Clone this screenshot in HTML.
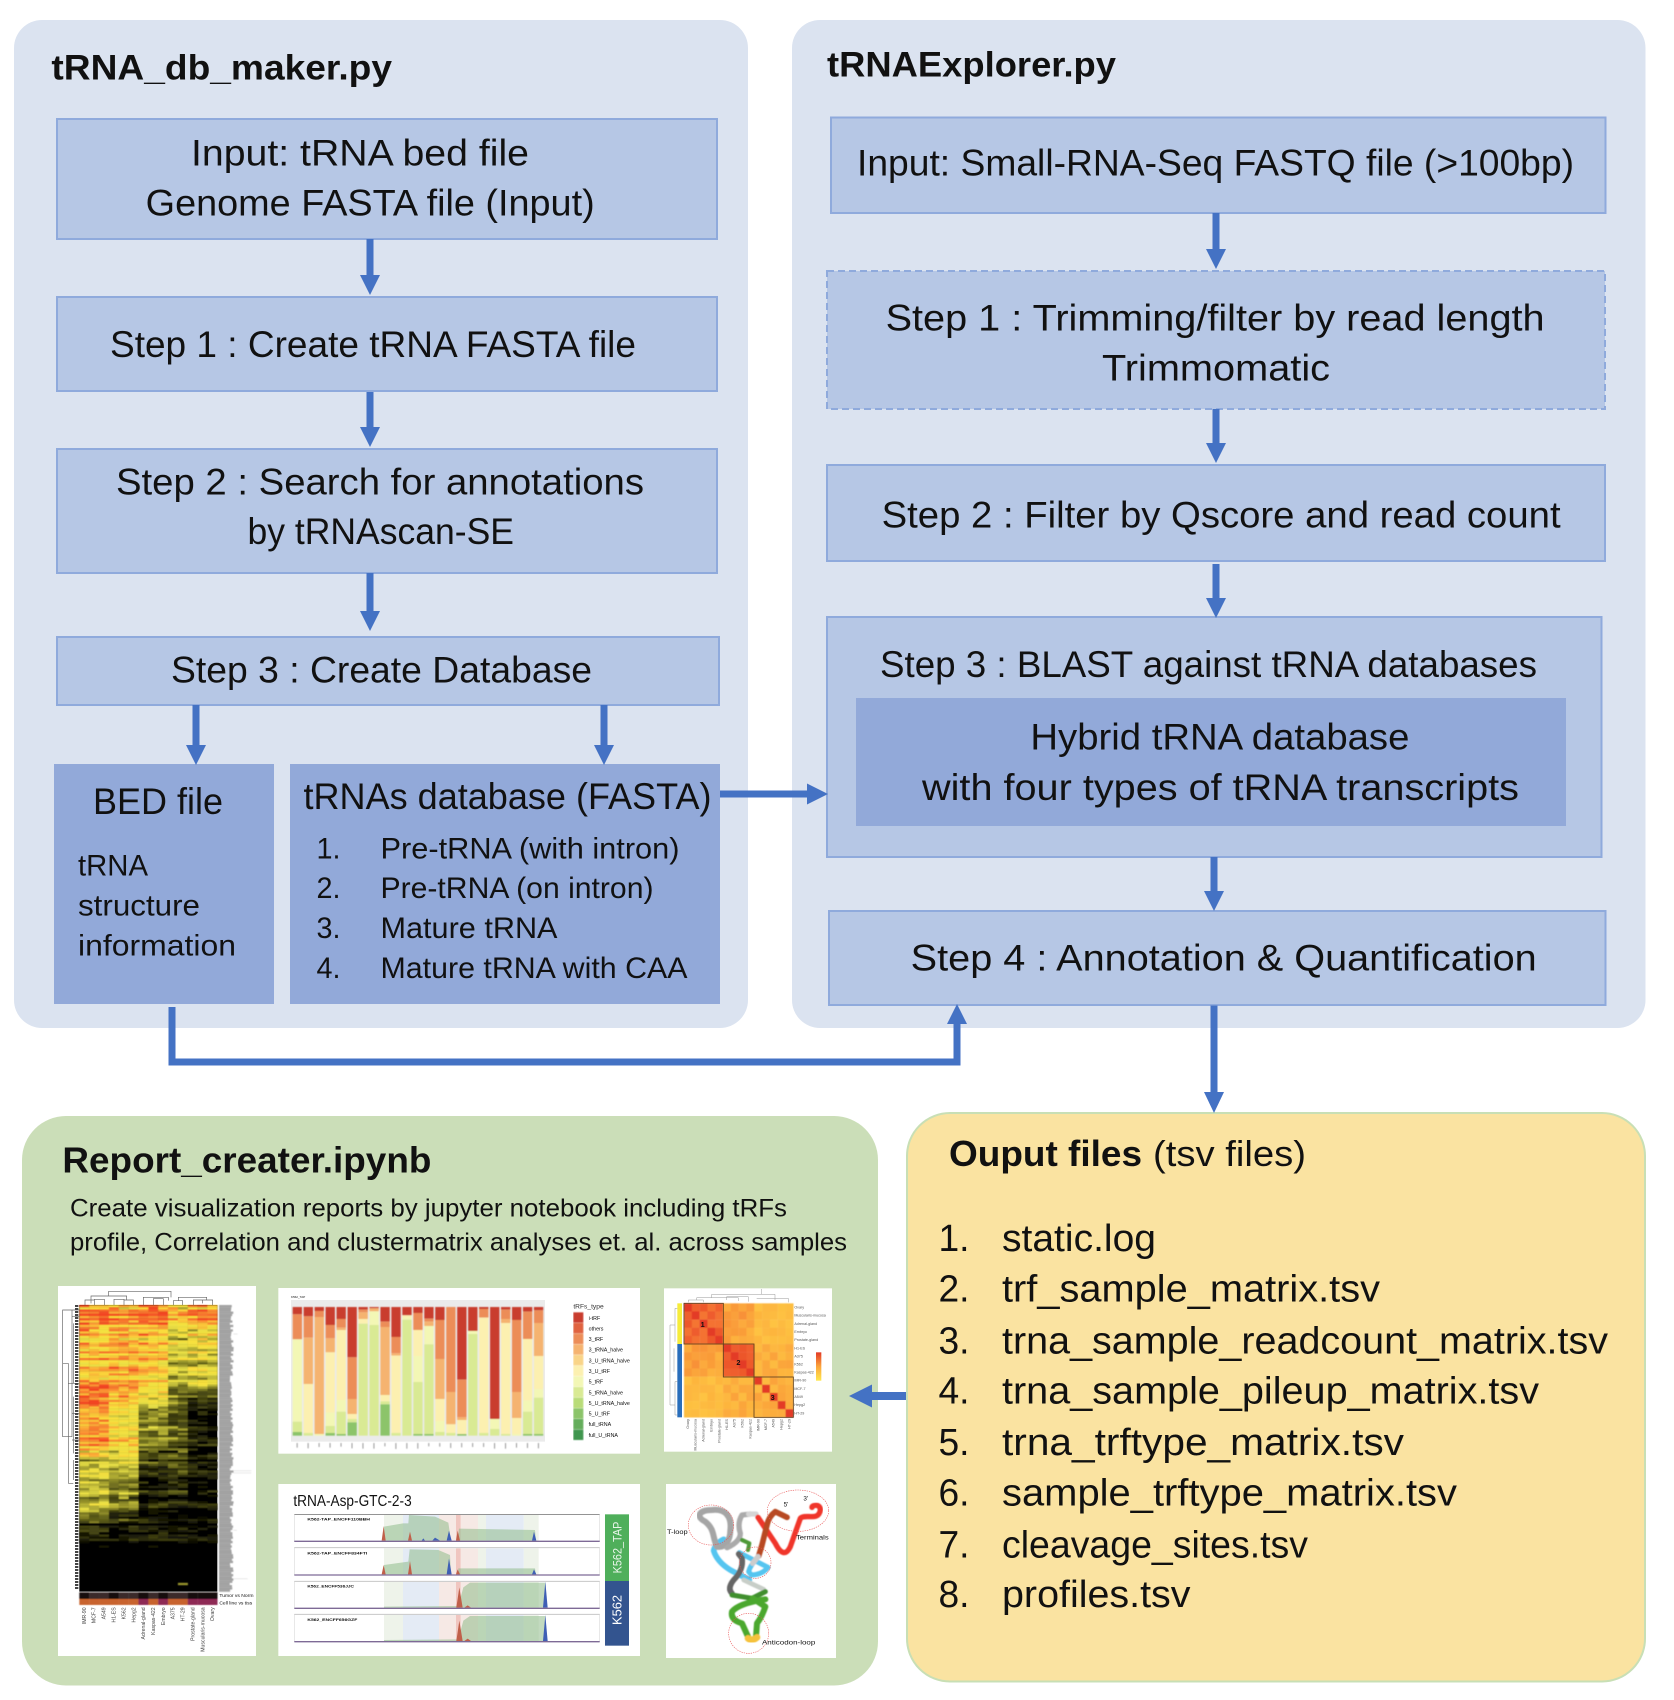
<!DOCTYPE html>
<html><head><meta charset="utf-8"><style>
html,body{margin:0;padding:0;background:#fff}
svg{display:block}
text{font-family:"Liberation Sans",sans-serif;fill:#111}
.a{font-size:37px}.b{font-size:30px}.c{font-size:25px}.d{font-size:38px}
.t{font-weight:bold}
</style></head><body>
<svg xmlns="http://www.w3.org/2000/svg" width="1674" height="1700" viewBox="0 0 1674 1700">
<defs>
<filter id="bl" x="-2%" y="-2%" width="104%" height="104%"><feGaussianBlur stdDeviation="1.5"/></filter>
<linearGradient id="lg" x1="0" y1="0" x2="0" y2="1"><stop offset="0" stop-color="#e33a26"/><stop offset=".5" stop-color="#fba53c"/><stop offset="1" stop-color="#ffe84d"/></linearGradient>
</defs>
<rect width="1674" height="1700" fill="#fff"/>

<!-- panels -->
<rect x="14" y="20" width="734" height="1008" rx="28" fill="#dbe3f0"/>
<rect x="792" y="20" width="853.5" height="1008" rx="28" fill="#dbe3f0"/>
<rect x="22" y="1116" width="856" height="569.5" rx="44" fill="#cbdeb8"/>
<rect x="907" y="1113" width="738" height="568.5" rx="43" fill="#fae3a1" stroke="#c8dfb5" stroke-width="2"/>

<!-- boxes -->
<g fill="#b6c7e5" stroke="#8faadc" stroke-width="2">
<rect x="57" y="119" width="660" height="120"/>
<rect x="57" y="297" width="660" height="94"/>
<rect x="57" y="449" width="660" height="124"/>
<rect x="57" y="637" width="662" height="68"/>
<rect x="831" y="117.5" width="774.5" height="95.5"/>
<rect x="827" y="271" width="778" height="138" stroke-dasharray="7 4"/>
<rect x="827" y="465" width="778" height="96"/>
<rect x="827" y="617" width="774.5" height="240"/>
<rect x="829" y="911" width="776.5" height="94"/>
</g>
<g fill="#92a9d9">
<rect x="54" y="764" width="220" height="240"/>
<rect x="290" y="764" width="430" height="240"/>
<rect x="856" y="698" width="710" height="128"/>
</g>

<!-- arrows -->
<g fill="none" stroke="#4472c4" stroke-width="7">
<path d="M370 239V278M370 392V430M370 573V614M196 705V748M604 705V748"/>
<path d="M1216 213V252M1216 409V446M1216 564V601M1214 857V894M1214 1005.5V1095"/>
<path d="M720 794H808"/>
<path d="M172 1007V1062H957V1022"/>
<path d="M906 1396H870" stroke-width="8"/>
</g>
<g fill="#4472c4">
<path d="M360 275H380L370 295ZM360 427H380L370 447ZM360 611H380L370 631ZM186 745H206L196 765ZM594 745H614L604 765Z"/>
<path d="M1206 249H1226L1216 269ZM1206 443H1226L1216 463ZM1206 598H1226L1216 618ZM1204 891H1224L1214 911ZM1204 1092H1224L1214 1113Z"/>
<path d="M807 783.5V804.5L828 794Z"/>
<path d="M947 1024H967L957 1004Z"/>
<path d="M872 1384.5V1407.5L849 1396Z"/>
</g>

<!-- left text -->
<text x="51.4" y="79.4" class="a t" textLength="340.6" lengthAdjust="spacingAndGlyphs" style="font-size:35px">tRNA_db_maker.py</text>
<g class="a" transform="translate(0,-1.5)">
<text x="191" y="167" textLength="338" lengthAdjust="spacingAndGlyphs">Input: tRNA bed file</text>
<text x="145.7" y="217" textLength="449" lengthAdjust="spacingAndGlyphs">Genome FASTA file (Input)</text>
<text x="110" y="358.6" textLength="526" lengthAdjust="spacingAndGlyphs">Step 1 : Create tRNA FASTA file</text>
<text x="116" y="496" textLength="528" lengthAdjust="spacingAndGlyphs">Step 2 : Search for annotations</text>
<text x="247.5" y="545.5" textLength="266.5" lengthAdjust="spacingAndGlyphs">by tRNAscan-SE</text>
<text x="171" y="684" textLength="421" lengthAdjust="spacingAndGlyphs">Step 3 : Create Database</text>
<text x="93" y="815.5" textLength="130" lengthAdjust="spacingAndGlyphs">BED file</text>
<text x="303.5" y="810.5" textLength="408" lengthAdjust="spacingAndGlyphs">tRNAs database (FASTA)</text>
</g>
<g class="b" transform="translate(0,-1.5)">
<text x="78" y="877" textLength="70" lengthAdjust="spacingAndGlyphs">tRNA</text>
<text x="78" y="917" textLength="122" lengthAdjust="spacingAndGlyphs">structure</text>
<text x="78" y="957" textLength="158" lengthAdjust="spacingAndGlyphs">information</text>
<text x="316.5" y="860" textLength="24" lengthAdjust="spacingAndGlyphs">1.</text>
<text x="316.5" y="899.6" textLength="24" lengthAdjust="spacingAndGlyphs">2.</text>
<text x="316.5" y="939.6" textLength="24" lengthAdjust="spacingAndGlyphs">3.</text>
<text x="316.5" y="979.6" textLength="24" lengthAdjust="spacingAndGlyphs">4.</text>
<text x="380.5" y="860" textLength="299" lengthAdjust="spacingAndGlyphs">Pre-tRNA (with intron)</text>
<text x="380.5" y="899.6" textLength="273" lengthAdjust="spacingAndGlyphs">Pre-tRNA (on intron)</text>
<text x="380.5" y="939.6" textLength="177" lengthAdjust="spacingAndGlyphs">Mature tRNA</text>
<text x="380.5" y="979.6" textLength="307" lengthAdjust="spacingAndGlyphs">Mature tRNA with CAA</text>
</g>

<!-- right text -->
<text x="827" y="76.6" class="t" style="font-size:35px" textLength="289" lengthAdjust="spacingAndGlyphs">tRNAExplorer.py</text>
<g class="a" transform="translate(0,-1.5)">
<text x="857" y="177" textLength="717" lengthAdjust="spacingAndGlyphs">Input: Small-RNA-Seq FASTQ file (&gt;100bp)</text>
<text x="885.6" y="332" textLength="659" lengthAdjust="spacingAndGlyphs">Step 1 : Trimming/filter by read length</text>
<text x="1102" y="382" textLength="228" lengthAdjust="spacingAndGlyphs">Trimmomatic</text>
<text x="881.6" y="529" textLength="679" lengthAdjust="spacingAndGlyphs">Step 2 : Filter by Qscore and read count</text>
<text x="880" y="678.6" textLength="657" lengthAdjust="spacingAndGlyphs">Step 3 : BLAST against tRNA databases</text>
<text x="1030.4" y="751" textLength="379" lengthAdjust="spacingAndGlyphs">Hybrid tRNA database</text>
<text x="922" y="801.5" textLength="597" lengthAdjust="spacingAndGlyphs">with four types of tRNA transcripts</text>
<text x="910.7" y="972" textLength="626" lengthAdjust="spacingAndGlyphs">Step 4 : Annotation &amp; Quantification</text>
</g>

<!-- report text -->
<text x="62.4" y="1172.7" class="t" style="font-size:36px" textLength="369" lengthAdjust="spacingAndGlyphs">Report_creater.ipynb</text>
<g class="c">
<text x="70" y="1216.7" textLength="717" lengthAdjust="spacingAndGlyphs">Create visualization reports by jupyter notebook including tRFs</text>
<text x="70" y="1250.4" textLength="777" lengthAdjust="spacingAndGlyphs">profile, Correlation and clustermatrix analyses et. al. across samples</text>
</g>

<!-- output text -->
<text x="949" y="1166" class="t" style="font-size:36px" textLength="193" lengthAdjust="spacingAndGlyphs">Ouput files</text>
<text x="1153" y="1166" style="font-size:36px" textLength="153" lengthAdjust="spacingAndGlyphs">(tsv files)</text>
<g class="d" transform="translate(0,1)">
<text x="938.5" y="1250" textLength="31" lengthAdjust="spacingAndGlyphs">1.</text>
<text x="938.5" y="1300.5" textLength="31" lengthAdjust="spacingAndGlyphs">2.</text>
<text x="938.5" y="1352.6" textLength="31" lengthAdjust="spacingAndGlyphs">3.</text>
<text x="938.5" y="1402.5" textLength="31" lengthAdjust="spacingAndGlyphs">4.</text>
<text x="938.5" y="1454" textLength="31" lengthAdjust="spacingAndGlyphs">5.</text>
<text x="938.5" y="1504.4" textLength="31" lengthAdjust="spacingAndGlyphs">6.</text>
<text x="938.5" y="1556.5" textLength="31" lengthAdjust="spacingAndGlyphs">7.</text>
<text x="938.5" y="1606" textLength="31" lengthAdjust="spacingAndGlyphs">8.</text>
<text x="1002" y="1250" textLength="154" lengthAdjust="spacingAndGlyphs">static.log</text>
<text x="1002" y="1300.5" textLength="378" lengthAdjust="spacingAndGlyphs">trf_sample_matrix.tsv</text>
<text x="1002" y="1352.6" textLength="606" lengthAdjust="spacingAndGlyphs">trna_sample_readcount_matrix.tsv</text>
<text x="1002" y="1402.5" textLength="537" lengthAdjust="spacingAndGlyphs">trna_sample_pileup_matrix.tsv</text>
<text x="1002" y="1454" textLength="402" lengthAdjust="spacingAndGlyphs">trna_trftype_matrix.tsv</text>
<text x="1002" y="1504.4" textLength="455" lengthAdjust="spacingAndGlyphs">sample_trftype_matrix.tsv</text>
<text x="1002" y="1556.5" textLength="306" lengthAdjust="spacingAndGlyphs">cleavage_sites.tsv</text>
<text x="1002" y="1606" textLength="188.5" lengthAdjust="spacingAndGlyphs">profiles.tsv</text>
</g>

<!-- heatmap image -->
<g transform="translate(50,1280) scale(.33333)">
<rect x="24" y="18" width="594" height="1110" fill="#fff"/>
<rect x="88" y="75" width="414" height="860" fill="#000"/>
<g id="heat" filter="url(#bl)"></g>
<g id="heatlab" fill="#a2a2a2" filter="url(#bl)"></g>
<g fill="none" stroke="#666" stroke-width="2">
<path d="M176 48V34H363V52M123 70V48H230V60M105 75V60H133V75M133 65V58H163V75M192 75V58H222V75M222 66V60H250V75M280 75V52H355V62M310 75V56H340V75M370 75V62H398V75M385 62V52H470V60M430 75V60H488V75M458 60V70"/>
<path d="M88 90H66V95M66 110H88M38 90H66V470H38ZM55 250H38M55 250V610M55 310H88M55 610H70M70 130V310M70 350V520M70 540V600M66 400H88M66 480H88"/>
</g>
<path d="M80 75V930" stroke="#444" stroke-width="10" stroke-dasharray="6 3" fill="none"/>
<g id="ann" filter="url(#bl)"></g>
<text x="508" y="951" style="font-size:15px">Tumor vs Norm</text>
<text x="508" y="973" style="font-size:15px">Cell line vs tiss</text>
<g style="font-size:15.5px" text-anchor="end">
<text transform="translate(108,982) rotate(-90)" style="fill:#444">IMR-90</text>
<text transform="translate(137,982) rotate(-90)" style="fill:#444">MCF-7</text>
<text transform="translate(167,982) rotate(-90)" style="fill:#444">A549</text>
<text transform="translate(197,982) rotate(-90)" style="fill:#444">H1-ES</text>
<text transform="translate(226,982) rotate(-90)" style="fill:#444">K562</text>
<text transform="translate(256,982) rotate(-90)" style="fill:#444">Hepg2</text>
<text transform="translate(285,982) rotate(-90)" style="fill:#444">Adrenal-gland</text>
<text transform="translate(315,982) rotate(-90)" style="fill:#444">Kaspas-422</text>
<text transform="translate(345,982) rotate(-90)" style="fill:#444">Embryo</text>
<text transform="translate(374,982) rotate(-90)" style="fill:#444">A375</text>
<text transform="translate(404,982) rotate(-90)" style="fill:#444">HT-29</text>
<text transform="translate(433,982) rotate(-90)" style="fill:#444">Prostate-gland</text>
<text transform="translate(463,982) rotate(-90)" style="fill:#444">Muscularis-mucosa</text>
<text transform="translate(492,982) rotate(-90)" style="fill:#444">Ovary</text>
</g>
</g>

<!-- stacked bars image -->
<g transform="translate(275,1285) scale(.33333)">
<rect x="10" y="9" width="1085" height="497" fill="#fff"/>
<rect x="48" y="45" width="762" height="425" fill="#ebebeb"/>
<g id="bars" filter="url(#bl)"></g>
<text x="48" y="39" style="font-size:9px">K562_TAP</text>
<g id="legend" filter="url(#bl)"></g>
<text x="895" y="70" style="font-size:20px;fill:#333">tRFs_type</text>
<g style="font-size:16px">
<text x="941" y="105">i-tRF</text>
<text x="941" y="137">others</text>
<text x="941" y="168">3_tRF</text>
<text x="941" y="200">3_tRNA_halve</text>
<text x="941" y="233">3_U_tRNA_halve</text>
<text x="941" y="264">3_U_tRF</text>
<text x="941" y="295">5_tRF</text>
<text x="941" y="328">5_tRNA_halve</text>
<text x="941" y="360">5_U_tRNA_halve</text>
<text x="941" y="391">5_U_tRF</text>
<text x="941" y="423">full_tRNA</text>
<text x="941" y="456">full_U_tRNA</text>
</g>
</g>

<!-- cluster matrix image -->
<g transform="translate(660,1285) scale(.33333)">
<rect x="12" y="10" width="504" height="490" fill="#fff"/>
<g id="mat" filter="url(#bl)"></g>
<rect x="52" y="55" width="14" height="122" fill="#f6ec3c"/>
<rect x="52" y="177" width="14" height="220" fill="#2a6ebb"/>
<g fill="none" stroke="#5d3f1c" stroke-width="2.5">
<rect x="72" y="55" width="118" height="122"/>
<rect x="190" y="177" width="92" height="99"/>
<rect x="282" y="276" width="118" height="121"/>
</g>
<g fill="none" stroke="#999" stroke-width="1.5">
<path d="M110 45V38H235V48M155 38V28H345V45M305 28V12M200 45V35H265V50M290 40H385V52M85 52V45H130V52M45 70V170M45 70H52M30 120V360M30 120H45M30 360H45M45 290V390M45 290H52M45 390H52M42 190V260"/>
</g>
<g style="font-size:22px;font-weight:bold">
<text x="122" y="126">1</text><text x="229" y="240">2</text><text x="332" y="345">3</text>
</g>
<g style="font-size:11px">
<text x="403" y="71" style="fill:#555">Ovary</text>
<text x="403" y="95" style="fill:#555">Muscularis-mucosa</text>
<text x="403" y="120" style="fill:#555">Adrenal-gland</text>
<text x="403" y="144" style="fill:#555">Embryo</text>
<text x="403" y="168" style="fill:#555">Prostate-gland</text>
<text x="403" y="193" style="fill:#555">H1-ES</text>
<text x="403" y="217" style="fill:#555">A375</text>
<text x="403" y="241" style="fill:#555">K562</text>
<text x="403" y="266" style="fill:#555">Kaspas-422</text>
<text x="403" y="290" style="fill:#555">IMR-90</text>
<text x="403" y="315" style="fill:#555">MCF-7</text>
<text x="403" y="339" style="fill:#555">A549</text>
<text x="403" y="363" style="fill:#555">Hepg2</text>
<text x="403" y="388" style="fill:#555">HT-29</text>
</g>
<g style="font-size:11px" text-anchor="end">
<text transform="translate(87,402) rotate(-90)" style="fill:#555">Ovary</text>
<text transform="translate(110,402) rotate(-90)" style="fill:#555">Muscularis-mucosa</text>
<text transform="translate(134,402) rotate(-90)" style="fill:#555">Adrenal-gland</text>
<text transform="translate(157,402) rotate(-90)" style="fill:#555">Embryo</text>
<text transform="translate(181,402) rotate(-90)" style="fill:#555">Prostate-gland</text>
<text transform="translate(204,402) rotate(-90)" style="fill:#555">H1-ES</text>
<text transform="translate(227,402) rotate(-90)" style="fill:#555">A375</text>
<text transform="translate(251,402) rotate(-90)" style="fill:#555">K562</text>
<text transform="translate(274,402) rotate(-90)" style="fill:#555">Kaspas-422</text>
<text transform="translate(298,402) rotate(-90)" style="fill:#555">IMR-90</text>
<text transform="translate(321,402) rotate(-90)" style="fill:#555">MCF-7</text>
<text transform="translate(344,402) rotate(-90)" style="fill:#555">A549</text>
<text transform="translate(368,402) rotate(-90)" style="fill:#555">Hepg2</text>
<text transform="translate(391,402) rotate(-90)" style="fill:#555">HT-29</text>
</g>
<rect x="468" y="202" width="16" height="85" fill="url(#lg)"/>
</g>

<!-- tracks image -->
<g transform="translate(275,1480) scale(.33333)">
<rect x="10" y="12" width="1085" height="516" fill="#fff"/>
<text x="55" y="78" style="font-size:46px" textLength="355" lengthAdjust="spacingAndGlyphs">tRNA-Asp-GTC-2-3</text>
<g>
<g fill="#eef3ea"><rect x="327" y="105" width="57" height="78"/><rect x="609" y="105" width="24" height="78"/><rect x="746" y="105" width="45" height="78"/></g>
<g fill="#e4ebf5"><rect x="384" y="105" width="108" height="78"/><rect x="633" y="105" width="113" height="78"/></g>
<g fill="#f6e9e5"><rect x="492" y="105" width="51" height="78"/><rect x="557" y="105" width="52" height="78"/></g>
<rect x="543" y="105" width="14" height="78" fill="#f0c6c0"/>
</g>
<g transform="translate(0,100)">
<g fill="#eef3ea"><rect x="327" y="105" width="57" height="78"/><rect x="609" y="105" width="24" height="78"/><rect x="746" y="105" width="45" height="78"/></g>
<g fill="#e4ebf5"><rect x="384" y="105" width="108" height="78"/><rect x="633" y="105" width="113" height="78"/></g>
<g fill="#f6e9e5"><rect x="492" y="105" width="51" height="78"/><rect x="557" y="105" width="52" height="78"/></g>
<rect x="543" y="105" width="14" height="78" fill="#f0c6c0"/>
</g>
<g transform="translate(0,201)">
<g fill="#eef3ea"><rect x="327" y="105" width="57" height="78"/><rect x="609" y="105" width="24" height="78"/><rect x="746" y="105" width="45" height="78"/></g>
<g fill="#e4ebf5"><rect x="384" y="105" width="108" height="78"/><rect x="633" y="105" width="113" height="78"/></g>
<g fill="#f6e9e5"><rect x="492" y="105" width="51" height="78"/><rect x="557" y="105" width="52" height="78"/></g>
<rect x="543" y="105" width="14" height="78" fill="#f0c6c0"/>
</g>
<g transform="translate(0,300)">
<g fill="#eef3ea"><rect x="327" y="105" width="57" height="78"/><rect x="609" y="105" width="24" height="78"/><rect x="746" y="105" width="45" height="78"/></g>
<g fill="#e4ebf5"><rect x="384" y="105" width="108" height="78"/><rect x="633" y="105" width="113" height="78"/></g>
<g fill="#f6e9e5"><rect x="492" y="105" width="51" height="78"/><rect x="557" y="105" width="52" height="78"/></g>
<rect x="543" y="105" width="14" height="78" fill="#f0c6c0"/>
</g>
<g fill="#8fbb8a" fill-opacity=".55">
<path d="M327 182V140L384 130H400L402 105L480 110L520 128L528 182ZM548 182L552 146L780 150L783 182Z"/>
<path d="M327 283V255L400 245L404 208L490 210L525 225L528 283ZM548 283L550 265L780 265L783 283Z"/>
<path d="M327 383V380L550 378L565 322L585 308H812V383Z"/>
<path d="M327 483V480L550 478L565 422L585 408H812V483Z"/>
</g>
<g fill="#c0604a">
<path d="M320 182L326 138L332 182ZM399 182L405 155L411 182ZM543 182L548 152L555 182Z"/>
<path d="M320 283L326 255L332 283ZM399 283L405 243L411 283ZM543 283L548 268L555 283Z"/>
<path d="M544 383L553 322L563 383ZM568 383L578 376L588 383Z"/>
<path d="M544 483L553 422L563 483ZM568 483L578 476L588 483Z"/>
</g>
<g fill="#3f5fb5">
<path d="M515 182L522 152L530 182ZM771 182L777 155L784 182ZM440 182L445 175L450 182ZM472 182L480 173L495 182Z"/>
<path d="M515 283L522 235L530 283ZM771 283L777 268L784 283Z"/>
<path d="M804 383L811 305L818 383Z"/>
<path d="M804 483L811 405L818 483Z"/>
</g>
<g fill="none">
<path d="M58 103H974" stroke="#555" stroke-width="2"/>
<path d="M58 103V186M974 103V186M58 203V286M974 203V286M58 304V386M974 304V386M58 403V486M974 403V486" stroke="#ddd" stroke-width="2"/>
<path d="M58 203H974M58 304H974M58 403H974" stroke="#c8c8c8" stroke-width="3"/>
<path d="M58 184H974M58 285H974M58 385H974M58 485H974" stroke="#7e6a96" stroke-width="4"/>
</g>
<g style="font-size:12px;font-weight:bold">
<text x="97" y="122" textLength="188" lengthAdjust="spacingAndGlyphs">K562-TAP_ENCFF110BBH</text>
<text x="97" y="223" textLength="180" lengthAdjust="spacingAndGlyphs">K562-TAP_ENCFF834FTI</text>
<text x="97" y="323" textLength="140" lengthAdjust="spacingAndGlyphs">K562_ENCFF536JJC</text>
<text x="97" y="423" textLength="150" lengthAdjust="spacingAndGlyphs">K562_ENCFF656GZF</text>
</g>
<rect x="990" y="103" width="72" height="200" fill="#4faf5b"/>
<rect x="990" y="303" width="72" height="194" fill="#33548f"/>
<text transform="translate(1040,280) rotate(-90)" style="font-size:36px;fill:#e9f5ea" textLength="155" lengthAdjust="spacingAndGlyphs">K562_TAP</text>
<text transform="translate(1040,435) rotate(-90)" style="font-size:38px;fill:#fff" textLength="90" lengthAdjust="spacingAndGlyphs">K562</text>
</g>

<!-- 3D image -->
<g transform="translate(662,1480) scale(.33333)">
<rect x="12" y="12" width="510" height="522" fill="#fff"/>
<g fill="none" stroke-linecap="round" stroke-linejoin="round" filter="url(#bl)">
<path d="M185 178Q160 190 155 212Q165 245 205 270L262 300" stroke="#55c5f0" stroke-width="17"/>
<path d="M232 218L318 262Q300 285 268 285L260 275Q265 255 282 240" stroke="#55c5f0" stroke-width="15"/>
<path d="M165 200C150 170 160 150 130 125C100 110 110 90 150 90C190 85 210 110 205 150C205 180 190 205 165 200" stroke="#a5a5a5" stroke-width="18"/>
<path d="M195 203Q235 185 235 160Q225 130 240 105L265 102" stroke="#aaa" stroke-width="16"/>
<path d="M260 102H282" stroke="#d5d5d5" stroke-width="16"/>
<path d="M240 180L262 190L258 210" stroke="#4f9a38" stroke-width="12"/>
<path d="M288 112L340 190Q365 240 385 200L415 115C430 100 470 125 475 90C475 70 450 75 450 82" stroke="#f0352a" stroke-width="16"/>
<path d="M375 112L340 95Q320 110 315 135L300 195L290 228" stroke="#b84a20" stroke-width="17"/>
<path d="M288 230L272 250" stroke="#ccc" stroke-width="16"/>
<path d="M230 222L240 235Q245 270 215 300Q195 325 210 340" stroke="#666" stroke-width="17"/>
<path d="M245 300L305 328" stroke="#c8cec8" stroke-width="14"/>
<path d="M210 345L270 355L310 335" stroke="#3f8f2f" stroke-width="15"/>
<path d="M310 358Q230 370 210 395Q205 420 240 430L258 470" stroke="#4ca82f" stroke-width="18"/>
<path d="M272 355L310 380Q300 410 285 430L282 470" stroke="#4ca82f" stroke-width="18"/>
<path d="M258 475Q270 485 285 472" stroke="#f5c23c" stroke-width="20"/>
</g>
<g fill="none" stroke="#e85050" stroke-width="1.7" stroke-dasharray="4 3">
<ellipse cx="147" cy="135" rx="68" ry="60"/>
<ellipse cx="408" cy="92" rx="92" ry="62"/>
<circle cx="280" cy="248" r="47"/>
<circle cx="260" cy="460" r="60"/>
</g>
<g style="font-size:19px">
<text x="15" y="162" textLength="62" lengthAdjust="spacingAndGlyphs">T-loop</text>
<text x="402" y="178" textLength="98" lengthAdjust="spacingAndGlyphs">Terminals</text>
<text x="300" y="493" textLength="160" lengthAdjust="spacingAndGlyphs">Anticodon-loop</text>
<text x="365" y="80">5'</text>
<text x="424" y="62">3'</text>
</g>
</g>
</svg>
<script>
(function(){
var s=12345;function R(){s=(s*16807)%2147483647;return s/2147483647}
function mix(st,v){v=Math.max(0,Math.min(1,v));for(var i=1;i<st.length;i++){if(v<=st[i][0]){var a=st[i-1],b=st[i],t=(v-a[0])/(b[0]-a[0]);
return 'rgb('+[1,2,3].map(function(k){return Math.round(a[k]+(b[k]-a[k])*t)}).join(',')+')'}}var l=st[st.length-1];return 'rgb('+l[1]+','+l[2]+','+l[3]+')'}
function ip(p,f){for(var i=1;i<p.length;i++){if(f<=p[i][0]){var t=(f-p[i-1][0])/(p[i][0]-p[i-1][0]);return p[i-1][1]+(p[i][1]-p[i-1][1])*t}}return 0}
var hs=[[0,0,0,0],[.3,92,92,24],[.55,232,224,70],[.7,250,225,60],[.82,252,170,55],[1,244,68,36]];
var P=[
[[0,.98],[.1,.82],[.26,.74],[.28,.98],[.35,.9],[.52,.76],[.53,.42],[.6,.55],[.72,.46],[.76,.18],[.84,.03],[1,0]],
[[0,.88],[.26,.76],[.3,.86],[.35,.68],[.52,.64],[.55,.45],[.7,.33],[.76,.1],[.84,.02],[1,0]],
[[0,.98],[.15,.78],[.27,.66],[.3,.7],[.35,.45],[.5,.3],[.55,.18],[.7,.1],[.84,.01],[1,0]],
[[0,.82],[.1,.66],[.2,.5],[.35,.33],[.5,.26],[.6,.18],[.75,.06],[.84,.01],[1,0]],
[[0,.94],[.1,.7],[.2,.5],[.27,.55],[.33,.13],[.5,.06],[.6,.08],[.7,.02],[.84,0],[1,0]]];
var G=[0,0,0,1,1,1,2,2,2,3,3,4,4,4],h='',N=130,rh=860/N,cw=414/14;
for(var r=0;r<N;r++){var f=r/N,rn=R()-.5,dark=R()<.08;
 for(var c=0;c<14;c++){var v=ip(P[G[c]],f)+.24*rn+.22*(R()-.5);if(dark&&R()<.7)v-=.3;
  if(f>.84){v=R()<.008?.4:0}
  if(v<.05)continue;
  h+='<rect x="'+(88+c*cw).toFixed(1)+'" y="'+(75+r*rh).toFixed(1)+'" width="'+(cw+.5).toFixed(1)+'" height="'+(rh+.5).toFixed(1)+'" fill="'+mix(hs,v)+'"/>'}}
document.getElementById('heat').innerHTML=h;
h='';for(r=0;r<N;r++){h+='<rect x="507" y="'+(75+r*rh).toFixed(1)+'" width="'+(32+R()*12).toFixed(1)+'" height="'+(rh+.3).toFixed(1)+'"/>';if(R()<.05)h+='<rect x="550" y="'+(75+r*rh).toFixed(1)+'" width="'+(10+R()*50).toFixed(1)+'" height="2" fill="#ddd"/>'}
document.getElementById('heatlab').innerHTML=h;
var a1=[0,1,1,0,1,1,0,1,0,1,1,0,0,0],a2=[0,0,0,0,0,0,1,0,1,0,0,1,1,1];h='';
for(c=0;c<14;c++){h+='<rect x="'+(88+c*cw).toFixed(1)+'" y="937" width="'+(cw+.5).toFixed(1)+'" height="20" fill="'+(a1[c]?'#3a2c2c':'#120808')+'"/>';
h+='<rect x="'+(88+c*cw).toFixed(1)+'" y="957" width="'+(cw+.5).toFixed(1)+'" height="18" fill="'+(a2[c]?'#8e2a55':'#c8642e')+'"/>'}
document.getElementById('ann').innerHTML=h;
var C={R:'#c93c2f',O:'#ec8d58',H:'#f5b36f',U:'#fcf0b0',T:'#f3f7b5',N:'#d9ea94',G:'#8cc46a'};
var B=["R66,O88,T163,N410,G441","R66,O94,H158,U297,N444","R66,O78,H96,T447","R66,O120,H160,U202,T383,N423,G444","R66,O102,H128,U135,T345,N380,G447","R66,O217,H342,U387,N402,G412","R66,O74,H82,U102,N116","R66,H70,T79,N120","R66,O110,H126,U330,N349,G358","R66,O156,H205,U212,N444","R66,U91,T96,N104","R66,O84,U135,T213,N291,G447","R66,O101,H110,T123,N178,G447","R66,O105,H222,U342,T408,N441","O66,H321,U418,N444","R66,O284,H397,U405,G447","R66,T138,N147","R66,O72,U98,N444","R66,T402,N432","R66,O74,H102,U114,N447","R66,O105,H321,U399,T447","R66,O80,U162,T347,N380,G447","R66,O76,H114,U213,T313,N338,G447"];
h='';B.forEach(function(b,i){var x=53+i*32.9,p=b.split(',');p.forEach(function(q,j){var y=+q.slice(1),e=j+1<p.length?+p[j+1].slice(1):452;
h+='<rect x="'+x.toFixed(1)+'" y="'+y+'" width="28" height="'+(e-y)+'" fill="'+C[q[0]]+'"/>'});
h+='<rect x="'+(x+12).toFixed(1)+'" y="474" width="3" height="'+(10+R()*8).toFixed(0)+'" fill="#999"/>'});
document.getElementById('bars').innerHTML=h;
var L=['#c93c2f','#e0633f','#ec8d58','#f5b36f','#f9d488','#fcf0b0','#f3f7b5','#d9ea94','#b9dc79','#8cc46a','#65ad5b','#41964f'];h='';
L.forEach(function(c,i){h+='<rect x="895" y="'+(82+i*32)+'" width="30" height="31" fill="'+c+'"/>'});
document.getElementById('legend').innerHTML=h;
var ms=[[0,255,232,77],[.5,253,180,62],[.8,242,103,47],[1,227,58,38]];
function bk(i){return i<5?0:i<9?1:2}
var W=[[.8,.58,.42],[.58,.84,.5],[.42,.5,.5]],M=[];
for(var i=0;i<14;i++){M[i]=[];for(var j=0;j<=i;j++){var v=i==j?1:W[bk(i)][bk(j)]+(R()-.5)*.14;M[i][j]=v;M[j][i]=v}}
h='';for(i=0;i<14;i++)for(j=0;j<14;j++){h+='<rect x="'+(72+j*23.43).toFixed(1)+'" y="'+(55+i*24.43).toFixed(1)+'" width="24" height="25" fill="'+mix(ms,M[i][j])+'"/>'}
document.getElementById('mat').innerHTML=h;
})();
</script>
</body></html>
